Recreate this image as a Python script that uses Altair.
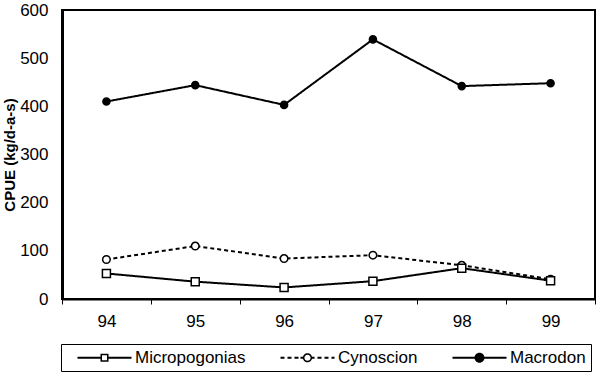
import altair as alt
import pandas as pd

years = ["94", "95", "96", "97", "98", "99"]
species = ["Micropogonias", "Cynoscion", "Macrodon"]
micropogonias = [53, 36, 24, 37, 64, 38]
cynoscion = [82, 110, 84, 91, 70, 41]
macrodon = [410, 444, 403, 539, 442, 448]

rows = []
for name, vals in [("Cynoscion", cynoscion), ("Macrodon", macrodon), ("Micropogonias", micropogonias)]:
    for yr, v in zip(years, vals):
        rows.append({"year": yr, "species": name, "cpue": v})
df = pd.DataFrame(rows)

# legend symbol paths (line + marker) built from filled geometry only
S = 16.0
C = 9.0  # px of symbol centre from entry left


def px(p):
    return round((p - C) / (S / 2), 4)


def ln(n):
    return round(n / (S / 2), 4)


def rect_cw(x0, x1, h):
    return f"M{px(x0)},{ln(-h)}H{px(x1)}V{ln(h)}H{px(x0)}Z"


def rect_ccw(x0, x1, h):
    return f"M{px(x0)},{ln(-h)}V{ln(h)}H{px(x1)}V{ln(-h)}Z"


def circ(cx, rad, sweep):
    rr = ln(rad)
    return (f"M{px(cx + rad)},0A{rr},{rr} 0 1,{sweep} {px(cx - rad)},0"
            f"A{rr},{rr} 0 1,{sweep} {px(cx + rad)},0Z")


LW = 1.0  # half line width in px
path_micro = (rect_cw(12, 35, LW) + rect_cw(43, 66, LW)
              + rect_cw(35, 43, 4) + rect_ccw(36.5, 41.5, 2.5))
dashes = ""
for a, b in [(12, 16), (19, 23), (26, 30), (32, 35), (43, 46), (49, 53), (56, 60), (63, 66)]:
    dashes += rect_cw(a, b, LW)
path_cyno = dashes + circ(39, 4.6, 1) + circ(39, 3.1, 0)
path_macro = rect_cw(12, 66, LW) + circ(39, 5, 1)

FONT = "Liberation Sans"

x_enc = alt.X(
    "year:O",
    scale=alt.Scale(type="band", domain=years, paddingInner=0, paddingOuter=0),
    axis=alt.Axis(title=None, labelAngle=0, tickBand="extent", tickSize=5,
                  tickColor="black", tickWidth=1, domainColor="black",
                  domainWidth=2, labelPadding=9, labelFontSize=17,
                  labelFont=FONT, labelColor="black", grid=False),
)
y_enc = alt.Y(
    "cpue:Q",
    scale=alt.Scale(domain=[0, 600], nice=False),
    axis=alt.Axis(title="CPUE (kg/d-a-s)", values=[0, 100, 200, 300, 400, 500, 600],
                  grid=False, ticks=False, tickSize=0, labelPadding=14,
                  labelFontSize=17, labelFont=FONT, labelColor="black",
                  titleFont=FONT, titleFontSize=15, titleFontWeight="bold",
                  titleColor="black", titlePadding=2, domainColor="black",
                  domainWidth=3),
)

base = alt.Chart(df)

lines = base.mark_line(strokeWidth=2, color="black").encode(
    x=x_enc, y=y_enc, detail="species:N",
    strokeDash=alt.StrokeDash("species:N",
                              scale=alt.Scale(domain=species, range=[[1, 0], [4, 3], [1, 0]]),
                              legend=None),
)

points = base.mark_point(filled=True, stroke="black", strokeWidth=1.5, opacity=1).encode(
    x=x_enc, y=y_enc,
    shape=alt.Shape("species:N", scale=alt.Scale(domain=species, range=["square", "circle", "circle"]),
                    legend=None),
    fill=alt.Fill("species:N", scale=alt.Scale(domain=species, range=["white", "white", "black"]),
                  legend=None),
    size=alt.Size("species:N", scale=alt.Scale(domain=species, range=[64, 50, 80]), legend=None),
)

leg = alt.Legend(title=None, orient="none", legendX=-1, legendY=334, direction="horizontal",
                 columns=3, strokeColor="black", padding=5, columnPadding=23,
                 labelFont=FONT, labelFontSize=17, labelColor="black", labelOffset=52,
                 symbolSize=S * S, symbolStrokeWidth=0, symbolFillColor="black",
                 symbolOpacity=1,
                 labelExpr="datum.label == 'Macrodon' ? datum.label + ' ' : datum.label")

legend_layer = base.transform_filter("false").mark_point(
    filled=True, fill="black", strokeWidth=0, opacity=1, size=S * S
).encode(
    x=x_enc, y=y_enc,
    shape=alt.Shape("species:N", scale=alt.Scale(domain=species, range=[path_micro, path_cyno, path_macro]),
                    legend=leg),
)

chart = alt.layer(lines, points, legend_layer).resolve_scale(
    shape="independent", fill="independent", size="independent", strokeDash="independent"
).properties(
    width=533, height=289,
    background="white",
    autosize=alt.AutoSizeParams(type="none"),
    padding={"left": 62, "top": 10, "right": 4, "bottom": 77},
).configure_view(stroke="black", strokeWidth=2)

chart.save("out.html", embed_options={"renderer": "svg", "actions": False})
